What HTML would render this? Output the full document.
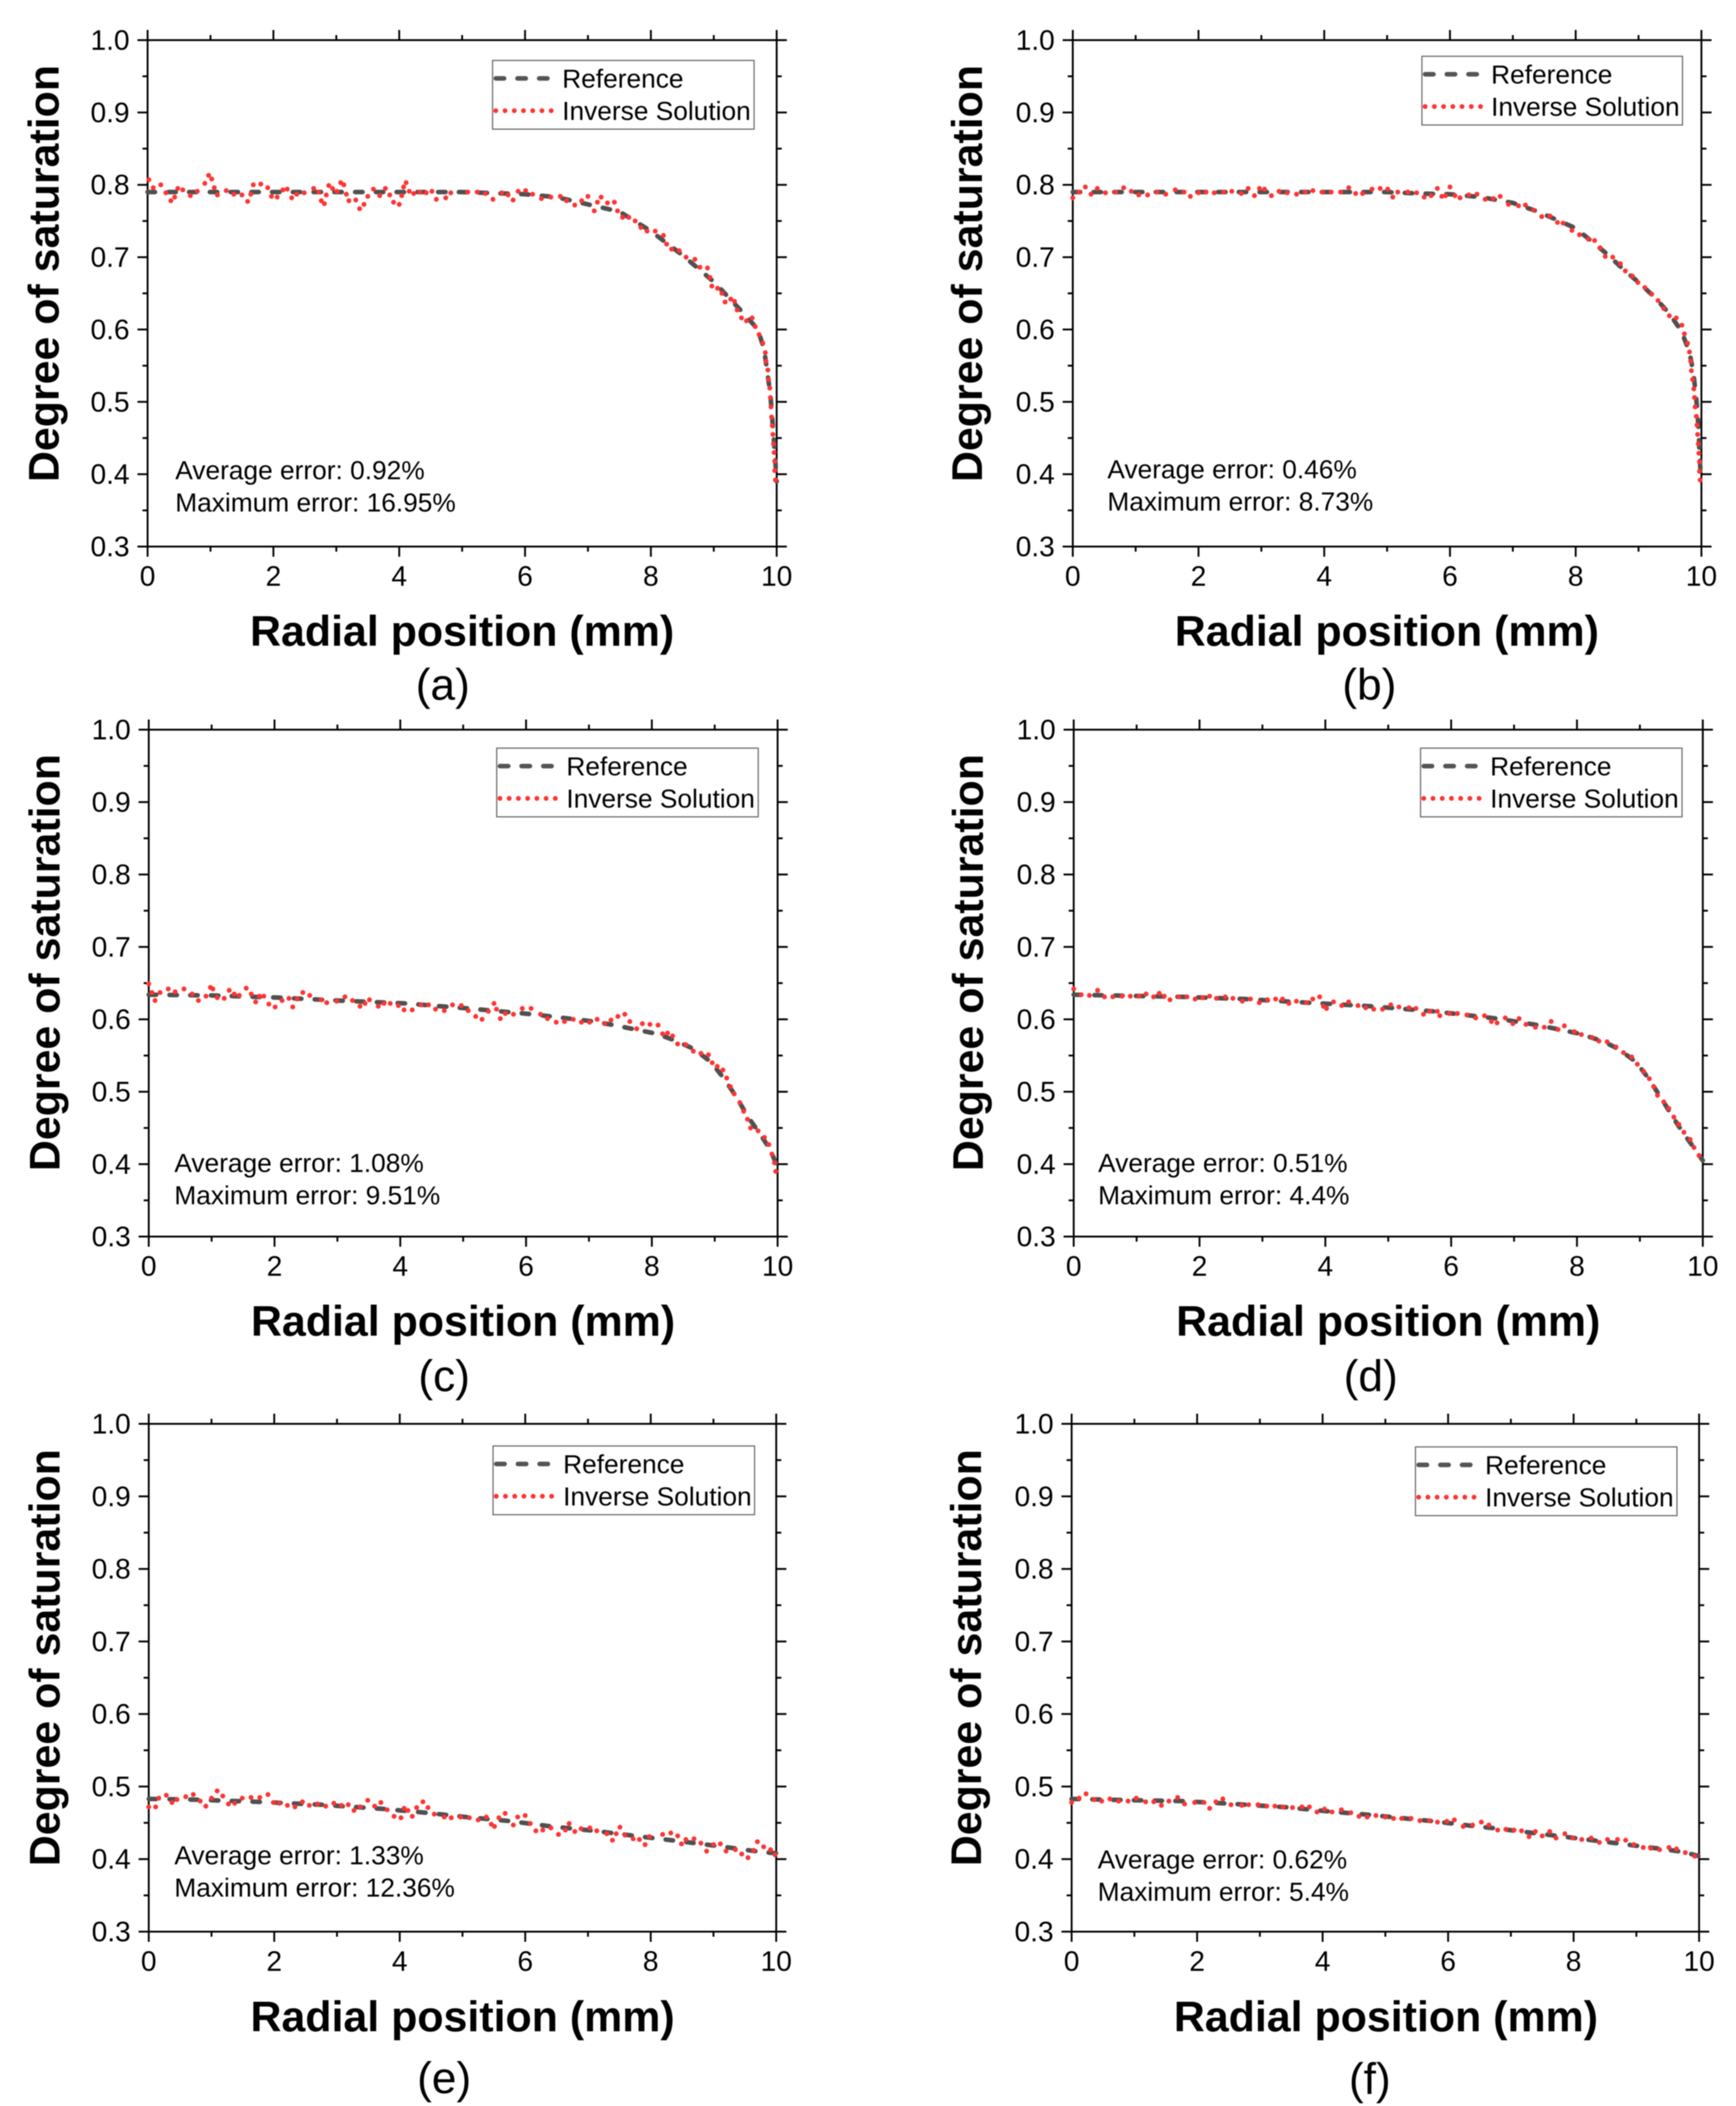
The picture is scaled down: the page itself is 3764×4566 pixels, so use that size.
<!DOCTYPE html>
<html lang="en">
<head>
<meta charset="utf-8">
<title>Degree of saturation: reference and inverse solution</title>
<style>
html,body{margin:0;padding:0;background:#fff;}
svg{display:block;filter:blur(1px);}
text{font-family:"Liberation Sans",Arial,sans-serif;fill:#000;}
.tt{font-size:93px;font-weight:700;text-anchor:middle;}
.tk{font-size:61px;}
.lg{font-size:57px;}
.an{font-size:57px;}
.pl{font-size:96px;text-anchor:middle;}
.box{fill:#fff;stroke:#666;stroke-width:2.5;}
.hd{fill:none;stroke:#555;stroke-width:10;stroke-linecap:round;stroke-dasharray:18 29;}
.hi{fill:none;stroke:#ff3333;stroke-width:10.5;stroke-linecap:round;stroke-dasharray:0 20;}
</style>
</head>
<body>
<svg id="figure" xmlns="http://www.w3.org/2000/svg" width="3764" height="4566" viewBox="0 0 3764 4566">
<rect width="3764" height="4566" fill="#fff"/>

<g id="panel-a">
  <g class="axes"></g>
  <text class="tt" transform="translate(127 593) rotate(-90)">Degree of saturation</text>
  <text class="tt" x="1002" y="1400">Radial position (mm)</text>
  <text class="pl" x="960" y="1517">(a)</text>
  <text class="an" x="380" y="1039">Average error: 0.92%</text>
  <text class="an" x="380" y="1109">Maximum error: 16.95%</text>
  <g>
    <rect class="box" x="1068" y="131" width="567" height="149"/>
    <line class="hd" x1="1075" x2="1190" y1="170" y2="170"/>
    <line class="hi" x1="1075" x2="1200" y1="240" y2="240"/>
    <text class="lg" x="1219" y="190">Reference</text>
    <text class="lg" x="1219" y="260">Inverse Solution</text>
  </g>
</g>

<g id="panel-b">
  <g class="axes"></g>
  <text class="tt" transform="translate(2129 593) rotate(-90)">Degree of saturation</text>
  <text class="tt" x="3007" y="1400">Radial position (mm)</text>
  <text class="pl" x="2969" y="1517">(b)</text>
  <text class="an" x="2401" y="1037">Average error: 0.46%</text>
  <text class="an" x="2401" y="1107">Maximum error: 8.73%</text>
  <g>
    <rect class="box" x="3083" y="122" width="565" height="149"/>
    <line class="hd" x1="3090" x2="3205" y1="161" y2="161"/>
    <line class="hi" x1="3090" x2="3215" y1="231" y2="231"/>
    <text class="lg" x="3233" y="181">Reference</text>
    <text class="lg" x="3233" y="251">Inverse Solution</text>
  </g>
</g>

<g id="panel-c">
  <g class="axes"></g>
  <text class="tt" transform="translate(129 2087) rotate(-90)">Degree of saturation</text>
  <text class="tt" x="1004" y="2896">Radial position (mm)</text>
  <text class="pl" x="963" y="3016">(c)</text>
  <text class="an" x="378" y="2541">Average error: 1.08%</text>
  <text class="an" x="378" y="2611">Maximum error: 9.51%</text>
  <g>
    <rect class="box" x="1077" y="1622" width="567" height="149"/>
    <line class="hd" x1="1084" x2="1199" y1="1661" y2="1661"/>
    <line class="hi" x1="1084" x2="1209" y1="1731" y2="1731"/>
    <text class="lg" x="1228" y="1681">Reference</text>
    <text class="lg" x="1228" y="1751">Inverse Solution</text>
  </g>
</g>

<g id="panel-d">
  <g class="axes"></g>
  <text class="tt" transform="translate(2131 2087) rotate(-90)">Degree of saturation</text>
  <text class="tt" x="3010" y="2896">Radial position (mm)</text>
  <text class="pl" x="2972" y="3016">(d)</text>
  <text class="an" x="2381" y="2541">Average error: 0.51%</text>
  <text class="an" x="2381" y="2611">Maximum error: 4.4%</text>
  <g>
    <rect class="box" x="3080" y="1622" width="567" height="149"/>
    <line class="hd" x1="3087" x2="3202" y1="1661" y2="1661"/>
    <line class="hi" x1="3087" x2="3212" y1="1731" y2="1731"/>
    <text class="lg" x="3231" y="1681">Reference</text>
    <text class="lg" x="3231" y="1751">Inverse Solution</text>
  </g>
</g>

<g id="panel-e">
  <g class="axes"></g>
  <text class="tt" transform="translate(129 3594) rotate(-90)">Degree of saturation</text>
  <text class="tt" x="1003" y="4404">Radial position (mm)</text>
  <text class="pl" x="963" y="4538">(e)</text>
  <text class="an" x="378" y="4042">Average error: 1.33%</text>
  <text class="an" x="378" y="4112">Maximum error: 12.36%</text>
  <g>
    <rect class="box" x="1069" y="3135" width="567" height="149"/>
    <line class="hd" x1="1076" x2="1191" y1="3174" y2="3174"/>
    <line class="hi" x1="1076" x2="1201" y1="3244" y2="3244"/>
    <text class="lg" x="1221" y="3194">Reference</text>
    <text class="lg" x="1221" y="3264">Inverse Solution</text>
  </g>
</g>

<g id="panel-f">
  <g class="axes"></g>
  <text class="tt" transform="translate(2127 3594) rotate(-90)">Degree of saturation</text>
  <text class="tt" x="3005" y="4404">Radial position (mm)</text>
  <text class="pl" x="2970" y="4540">(f)</text>
  <text class="an" x="2380" y="4051">Average error: 0.62%</text>
  <text class="an" x="2380" y="4121">Maximum error: 5.4%</text>
  <g>
    <rect class="box" x="3069" y="3137" width="567" height="149"/>
    <line class="hd" x1="3076" x2="3191" y1="3176" y2="3176"/>
    <line class="hi" x1="3076" x2="3201" y1="3246" y2="3246"/>
    <text class="lg" x="3220" y="3196">Reference</text>
    <text class="lg" x="3220" y="3266">Inverse Solution</text>
  </g>
</g>
</svg>

<script>
var xTicks = [0, 2, 4, 6, 8, 10];
var xMinorTicks = [1, 3, 5, 7, 9];
var yTicks = [0.3, 0.4, 0.5, 0.6, 0.7, 0.8, 0.9, 1.0];
var yMinorTicks = [0.35, 0.45, 0.55, 0.65, 0.75, 0.85, 0.95];
var xDomain = [0, 10];
var yDomain = [0.3, 1.0];

var refX_a = [0, 5, 6, 6.5, 7, 7.5, 8, 8.5, 9, 9.5, 9.7, 9.8, 9.9, 9.95, 10];
var refY_a = [0.79, 0.79, 0.787, 0.783, 0.773, 0.763, 0.736, 0.703, 0.666, 0.62, 0.6, 0.573, 0.51, 0.454, 0.39];
var invX_a = [0.02,0.09,0.21,0.29,0.37,0.43,0.48,0.56,0.68,0.79,0.91,0.97,1.02,1.06,1.11,1.25,1.37,1.5,1.59,1.64,1.68,1.8,1.91,1.97,2.06,2.15,2.22,2.29,2.37,2.49,2.64,2.72,2.76,2.81,2.84,2.88,2.94,3.01,3.07,3.12,3.16,3.2,3.31,3.37,3.44,3.5,3.59,3.69,3.78,3.85,3.91,4,4.04,4.07,4.11,4.16,4.23,4.33,4.43,4.52,4.59,4.74,4.82,
5.09,5.24,5.37,5.49,5.63,5.73,5.81,5.89,6.01,6.12,6.26,6.41,6.56,6.66,6.79,6.9,7,7.1,7.15,7.21,7.31,7.42,7.47,7.55,7.65,7.75,7.84,7.94,8.07,8.2,8.25,8.33,8.45,8.56,8.7,8.78,8.9,8.94,8.97,9.06,9.13,9.18,9.27,9.33,9.37,9.44,9.52,9.61,9.66,9.72,9.78,9.82,9.83,9.86,9.87,9.89,9.9,9.91,9.92,9.93,9.94,9.95,9.96,9.97,9.97,9.98];
var invY_a = [0.807,0.796,0.8,0.789,0.778,0.783,0.795,0.793,0.785,0.791,0.802,0.813,0.808,0.796,0.786,0.792,0.787,0.786,0.777,0.787,0.8,0.801,0.796,0.784,0.783,0.793,0.794,0.782,0.787,0.789,0.795,0.79,0.778,0.774,0.786,0.799,0.795,0.791,0.803,0.8,0.787,0.778,0.779,0.767,0.773,0.784,0.794,0.785,0.795,0.786,0.776,0.773,0.785,0.797,0.803,0.791,0.788,0.79,0.789,0.791,0.78,0.782,0.789,
0.79,0.79,0.788,0.78,0.789,0.786,0.779,0.791,0.792,0.787,0.781,0.783,0.784,0.778,0.772,0.778,0.784,0.764,0.776,0.783,0.775,0.776,0.764,0.755,0.755,0.75,0.741,0.736,0.736,0.73,0.718,0.711,0.709,0.7,0.697,0.686,0.685,0.672,0.66,0.657,0.65,0.638,0.642,0.639,0.627,0.616,0.612,0.616,0.604,0.593,0.581,0.568,0.556,0.544,0.531,0.519,0.506,0.493,0.479,0.467,0.455,0.442,0.43,0.418,0.405,0.392];

var refX_b = [0, 5, 5.5, 6, 6.5, 7, 7.4, 8, 8.28, 8.49, 8.76, 9.03, 9.25, 9.49, 9.68, 9.81, 9.87, 9.91, 9.94, 9.96, 9.97, 10];
var refY_b = [0.79, 0.79, 0.788, 0.787, 0.783, 0.775, 0.763, 0.74, 0.72, 0.705, 0.683, 0.663, 0.645, 0.622, 0.598, 0.569, 0.541, 0.512, 0.483, 0.454, 0.424, 0.39];
var invX_b = [0,0.1,0.2,0.29,0.39,0.52,0.68,0.81,0.93,1.05,1.19,1.34,1.48,1.63,1.77,1.87,2,2.12,2.25,2.4,2.53,2.68,2.79,2.89,2.97,3.05,3.16,3.28,3.41,3.56,3.7,3.82,3.97,4.11,4.26,4.39,4.5,4.61,4.76,4.89,5.01,5.09,5.17,5.33,5.47,5.59,5.7,5.8,5.87,5.93,6,6.08,6.16,6.3,6.43,6.56,6.69,6.8,6.93,7.09,7.2,7.33,7.46,7.59,7.71,7.8,7.94,8.06,8.2,8.3,8.39,8.47,8.59,8.71,8.79,
8.9,8.99,9.1,9.21,9.31,9.4,9.49,9.6,9.69,9.73,9.78,9.81,9.83,9.84,9.86,9.88,9.89,9.9,9.92,9.93,9.94,9.95,9.96,9.97,9.97,9.98];
var invY_b = [0.782,0.79,0.797,0.787,0.795,0.789,0.79,0.796,0.791,0.786,0.786,0.79,0.787,0.793,0.79,0.784,0.789,0.79,0.789,0.79,0.791,0.788,0.795,0.785,0.795,0.794,0.785,0.791,0.789,0.787,0.79,0.792,0.79,0.79,0.79,0.796,0.788,0.788,0.794,0.795,0.794,0.783,0.79,0.79,0.789,0.783,0.785,0.795,0.784,0.785,0.797,0.785,0.782,0.786,0.787,0.78,0.781,0.784,0.773,0.771,0.772,0.765,0.756,0.757,0.748,0.747,0.737,0.731,0.725,0.723,0.713,0.701,0.7,0.691,0.681,
0.674,0.665,0.658,0.649,0.64,0.629,0.619,0.616,0.606,0.594,0.581,0.569,0.556,0.543,0.531,0.518,0.506,0.493,0.48,0.468,0.455,0.442,0.429,0.417,0.404,0.392];

var refX_c = [0, 1, 2.06, 3, 4.08, 5.08, 6.1, 7.08, 7.4, 8.08, 8.39, 8.67, 8.94, 9.15, 9.35, 9.53, 9.72, 9.89, 10];
var refY_c = [0.634, 0.633, 0.63, 0.626, 0.622, 0.615, 0.607, 0.597, 0.592, 0.58, 0.57, 0.559, 0.541, 0.518, 0.492, 0.465, 0.442, 0.419, 0.395];
var invX_c = [0,0.05,0.1,0.18,0.31,0.42,0.56,0.69,0.79,0.91,0.98,1.02,1.09,1.2,1.28,1.36,1.44,1.55,1.63,1.7,1.76,1.83,1.91,2.01,2.12,2.23,2.29,2.36,2.45,2.56,2.74,2.83,2.99,3.12,3.24,3.36,3.44,3.51,3.65,3.74,3.84,3.97,4.06,4.19,4.33,4.45,4.56,4.7,4.83,4.97,5.08,5.2,5.3,5.4,5.49,5.53,5.59,5.67,5.8,5.94,6.08,6.23,6.34,6.48,6.61,6.75,6.88,7.01,7.13,7.25,7.35,7.46,7.57,7.65,7.76,7.85,7.97,8.1,8.17,8.25,8.33,8.41,8.54,8.66,8.78,8.9,8.96,9.04,9.13,9.19,9.25,9.31,9.4,9.46,9.52,9.57,9.69,9.79,9.86,9.91,9.95,9.97];
var invY_c = [0.649,0.637,0.626,0.637,0.642,0.638,0.642,0.635,0.626,0.632,0.644,0.642,0.63,0.629,0.64,0.635,0.633,0.643,0.635,0.624,0.632,0.632,0.621,0.617,0.626,0.629,0.617,0.628,0.637,0.633,0.627,0.623,0.625,0.631,0.626,0.618,0.622,0.627,0.618,0.622,0.622,0.619,0.613,0.613,0.62,0.62,0.614,0.612,0.62,0.619,0.612,0.604,0.6,0.611,0.622,0.614,0.601,0.608,0.607,0.615,0.615,0.607,0.601,0.596,0.597,0.6,0.596,0.596,0.6,0.594,0.599,0.604,0.607,0.597,0.587,0.594,0.593,0.592,0.58,0.581,0.577,0.566,0.565,0.556,0.553,0.551,0.54,0.535,0.53,0.519,0.507,0.497,0.485,0.473,0.462,0.45,0.446,0.437,0.427,0.414,0.402,0.39];

var refX_d = [0, 1.72, 2.73, 3.72, 4.73, 5.72, 6.73, 7.38, 8.05, 8.43, 8.66, 8.94, 9.14, 9.34, 9.51, 9.68, 9.89, 10];
var refY_d = [0.634, 0.631, 0.628, 0.623, 0.618, 0.611, 0.601, 0.592, 0.58, 0.569, 0.559, 0.541, 0.518, 0.491, 0.467, 0.444, 0.419, 0.405];
var invX_d = [0,0.12,0.25,0.38,0.49,0.62,0.77,0.9,1.04,1.15,1.27,1.36,1.44,1.53,1.67,1.8,1.93,2.05,2.16,2.27,2.41,2.53,2.68,2.81,2.95,3.08,3.21,3.32,3.42,3.54,3.7,3.8,3.91,3.97,4.02,4.13,4.26,4.37,4.52,4.64,4.77,4.91,5.04,5.17,5.33,5.44,5.56,5.66,5.78,5.82,5.97,6.1,6.25,6.39,6.53,6.64,6.73,6.86,6.98,7.08,7.19,7.34,7.48,7.59,7.7,7.8,7.96,8.07,8.24,8.35,8.48,8.62,8.74,8.87,8.96,9.06,9.15,9.22,9.28,9.38,9.46,9.54,9.62,9.7,9.8,9.86,9.94];
var invY_d = [0.642,0.634,0.633,0.64,0.631,0.631,0.632,0.632,0.632,0.635,0.631,0.636,0.632,0.627,0.631,0.631,0.628,0.63,0.632,0.629,0.631,0.629,0.625,0.628,0.623,0.627,0.628,0.628,0.622,0.625,0.623,0.628,0.631,0.618,0.615,0.624,0.619,0.624,0.619,0.616,0.614,0.614,0.62,0.617,0.616,0.615,0.607,0.611,0.611,0.605,0.608,0.608,0.606,0.602,0.605,0.597,0.595,0.602,0.594,0.601,0.593,0.589,0.589,0.597,0.586,0.591,0.583,0.579,0.575,0.57,0.569,0.562,0.554,0.548,0.538,0.528,0.518,0.507,0.495,0.486,0.477,0.465,0.455,0.444,0.434,0.423,0.412];

var refX_e = [0, 0.71, 1.73, 2.75, 3.77, 4.41, 5.06, 5.74, 6.42, 7.1, 7.75, 8.43, 9.07, 9.75, 10];
var refY_e = [0.483, 0.482, 0.479, 0.475, 0.469, 0.464, 0.458, 0.4525, 0.445, 0.439, 0.432, 0.425, 0.418, 0.41, 0.408];
var invX_e = [0,0.11,0.16,0.28,0.37,0.45,0.59,0.71,0.82,0.91,1,1.09,1.18,1.27,1.37,1.49,1.63,1.77,1.9,1.99,2.08,2.21,2.33,2.45,2.56,2.69,2.82,2.95,3.07,3.18,3.27,3.37,3.49,3.6,3.7,3.8,3.91,4.02,4.07,4.13,4.2,4.27,4.37,4.45,4.55,4.71,4.82,4.97,5.11,5.25,5.38,5.46,5.51,5.58,5.68,5.81,5.88,6,6.08,6.17,6.28,6.41,6.53,6.64,6.7,6.79,6.89,7.03,7.14,7.3,7.39,7.45,7.51,7.59,7.72,7.82,7.91,7.98,8.19,8.32,8.43,8.49,8.56,8.69,8.8,8.89,9,9.11,9.2,9.35,9.45,9.55,9.64,9.7,9.8,9.91,9.98];
var invY_e = [0.472,0.472,0.484,0.488,0.478,0.482,0.486,0.489,0.48,0.473,0.484,0.494,0.487,0.476,0.477,0.484,0.485,0.485,0.489,0.478,0.477,0.474,0.472,0.479,0.474,0.476,0.473,0.477,0.474,0.475,0.467,0.472,0.481,0.473,0.478,0.468,0.459,0.457,0.47,0.467,0.459,0.471,0.479,0.471,0.462,0.458,0.457,0.458,0.457,0.454,0.458,0.448,0.445,0.457,0.463,0.447,0.458,0.46,0.449,0.439,0.44,0.443,0.434,0.44,0.449,0.438,0.442,0.443,0.439,0.435,0.426,0.435,0.444,0.433,0.428,0.427,0.42,0.431,0.434,0.436,0.432,0.421,0.427,0.428,0.422,0.411,0.42,0.421,0.411,0.413,0.407,0.402,0.412,0.424,0.417,0.413,0.406];

var refX_f = [0, 1.07, 1.75, 2.4, 3.42, 4.07, 4.75, 5.73, 6.41, 6.75, 7.74, 8.72, 9.4, 9.74, 10];
var refY_f = [0.483, 0.481, 0.48, 0.477, 0.4715, 0.466, 0.461, 0.4525, 0.4455, 0.4425, 0.432, 0.4215, 0.414, 0.41, 0.404];
var invX_f = [0,0.12,0.23,0.36,0.48,0.61,0.75,0.9,1.03,1.18,1.31,1.43,1.55,1.69,1.8,1.96,2.11,2.2,2.3,2.41,2.54,2.71,2.82,2.97,3.11,3.24,3.37,3.52,3.67,3.79,3.91,4.03,4.15,4.3,4.45,4.58,4.71,4.85,5,5.13,5.26,5.41,5.55,5.7,5.83,5.98,6.1,6.24,6.39,6.53,6.65,6.79,6.92,7.05,7.17,7.29,7.39,7.5,7.62,7.72,7.86,7.99,8.13,8.28,8.41,8.54,8.7,8.83,8.96,9.11,9.23,9.37,9.52,9.64,9.78,9.93];
var invY_f = [0.478,0.484,0.49,0.482,0.48,0.483,0.48,0.48,0.484,0.479,0.479,0.474,0.48,0.485,0.476,0.478,0.478,0.47,0.479,0.483,0.475,0.474,0.475,0.475,0.473,0.473,0.472,0.471,0.472,0.472,0.465,0.469,0.465,0.468,0.464,0.459,0.458,0.46,0.458,0.456,0.456,0.456,0.453,0.453,0.451,0.452,0.454,0.445,0.447,0.451,0.447,0.44,0.441,0.44,0.439,0.431,0.438,0.432,0.438,0.429,0.435,0.429,0.427,0.429,0.423,0.427,0.427,0.426,0.42,0.416,0.415,0.413,0.416,0.414,0.409,0.404];

var SVG_NS = 'http://www.w3.org/2000/svg';

function make(tag, attrs, parent) {
  var el = document.createElementNS(SVG_NS, tag);
  for (var k in attrs) el.setAttribute(k, attrs[k]);
  parent.appendChild(el);
  return el;
}

function linearScale(domain, range) {
  return function (v) {
    return range[0] + (v - domain[0]) / (domain[1] - domain[0]) * (range[1] - range[0]);
  };
}

function drawPanel(id, box, refX, refY, invX, invY) {
  var host = document.querySelector('#' + id + ' .axes');
  var sx = linearScale(xDomain, [box.left, box.right]);
  var sy = linearScale(yDomain, [box.bottom, box.top]);

  var frame = make('rect', {x: box.left, y: box.top, width: box.right - box.left, height: box.bottom - box.top, fill: 'none', stroke: '#000', 'stroke-width': 4}, host);
  
  

  function xTick(v, len) {
    [[box.bottom, box.bottom + len], [box.top, box.top - len]].forEach(function (p) {
      var t = make('line', {x1: sx(v), x2: sx(v), y1: p[0], y2: p[1], stroke: '#000', 'stroke-width': 4}, host);
      
      
    });
  }
  function yTick(v, len) {
    [[box.left, box.left - len], [box.right, box.right + len]].forEach(function (p) {
      var t = make('line', {x1: p[0], x2: p[1], y1: sy(v), y2: sy(v), stroke: '#000', 'stroke-width': 4}, host);
      
      
    });
  }
  xMinorTicks.forEach(function (v) { xTick(v, 11); });
  yMinorTicks.forEach(function (v) { yTick(v, 11); });
  xTicks.forEach(function (v) {
    xTick(v, 22);
    var lab = make('text', {x: sx(v), y: box.bottom + 85, 'text-anchor': 'middle', 'class': 'tk'}, host);
    lab.textContent = String(v);
    
    
  });
  yTicks.forEach(function (v) {
    yTick(v, 22);
    var lab = make('text', {x: box.left - 39, y: sy(v) + 21, 'text-anchor': 'end', 'class': 'tk'}, host);
    lab.textContent = v.toFixed(1);
    
    
  });

  var pts = refX.map(function (x, i) { return sx(x).toFixed(1) + ',' + sy(refY[i]).toFixed(1); }).join(' ');
  var ref = make('polyline', {points: pts, fill: 'none', stroke: '#505050', 'stroke-width': 10, 'stroke-linecap': 'round', 'stroke-linejoin': 'round', 'stroke-dasharray': '16 29'}, host);
  
  

  var dots = make('g', {fill: '#ff3333'}, host);
  
  
  invX.forEach(function (x, i) {
    var c = make('circle', {cx: sx(x).toFixed(1), cy: sy(invY[i]).toFixed(1), r: 5.3}, dots);
    
    
  });
}

drawPanel('panel-a', {left: 320, right: 1684, top: 87, bottom: 1185}, refX_a, refY_a, invX_a, invY_a);
drawPanel('panel-b', {left: 2326, right: 3689, top: 87, bottom: 1185}, refX_b, refY_b, invX_b, invY_b);
drawPanel('panel-c', {left: 322.5, right: 1686, top: 1582, bottom: 2681}, refX_c, refY_c, invX_c, invY_c);
drawPanel('panel-d', {left: 2328, right: 3692, top: 1582, bottom: 2681}, refX_d, refY_d, invX_d, invY_d);
drawPanel('panel-e', {left: 322.5, right: 1683, top: 3087, bottom: 4188}, refX_e, refY_e, invX_e, invY_e);
drawPanel('panel-f', {left: 2323.5, right: 3684, top: 3087, bottom: 4188}, refX_f, refY_f, invX_f, invY_f);
</script>
</body>
</html>
